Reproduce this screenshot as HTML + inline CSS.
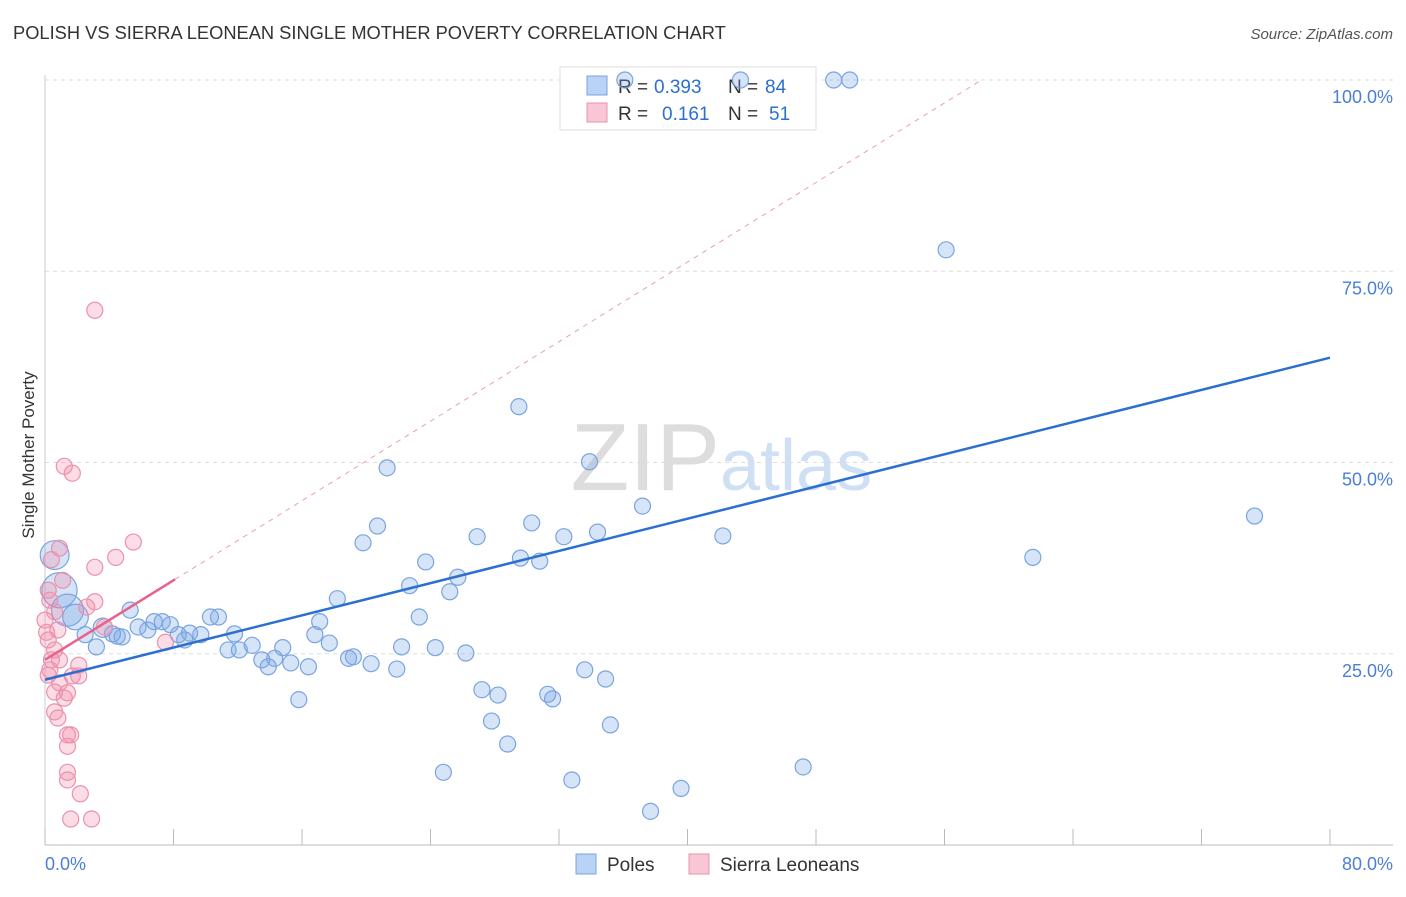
<!DOCTYPE html>
<html><head><meta charset="utf-8"><style>
body{margin:0;background:#fff;font-family:"Liberation Sans",sans-serif;}
svg text{font-family:"Liberation Sans",sans-serif;}
</style></head><body>
<svg id="chart" width="1406" height="892">
<text x="13" y="39" font-size="18.3" fill="#333">POLISH VS SIERRA LEONEAN SINGLE MOTHER POVERTY CORRELATION CHART</text>
<text x="1393" y="39" font-size="15" fill="#555" font-style="italic" text-anchor="end">Source: ZipAtlas.com</text>
<text x="0" y="0" transform="translate(34,455) rotate(-90)" font-size="17" fill="#333" text-anchor="middle">Single Mother Poverty</text>
<text x="720" y="490" font-size="96" fill="#ddd" font-family="Liberation Serif" text-anchor="end">ZIP</text>
<text x="720" y="490" font-size="72" fill="#cfe0f4">atlas</text>
<g id="grid"></g><g id="axes"></g><g id="trend"></g>
<g>
<rect x="560" y="67" width="256" height="63" fill="#fff" stroke="#ddd"/>
<rect x="587" y="76" width="20" height="19" fill="#b9d2f5" stroke="#7aa4e0"/>
<rect x="587" y="103" width="20" height="19" fill="#f9c6d6" stroke="#e893ae"/>
<text x="618" y="93" font-size="19" fill="#333">R = </text><text x="654" y="93" font-size="19" fill="#2b6fd0">0.393</text>
<text x="728" y="93" font-size="19" fill="#333">N = </text><text x="765" y="93" font-size="19" fill="#2b6fd0">84</text>
<text x="618" y="120" font-size="19" fill="#333">R = </text><text x="662" y="120" font-size="19" fill="#2b6fd0">0.161</text>
<text x="728" y="120" font-size="19" fill="#333">N = </text><text x="769" y="120" font-size="19" fill="#2b6fd0">51</text>
</g>
<g id="pts"></g>
<g>
<rect x="576" y="854" width="20" height="20" fill="#b9d2f5" stroke="#7aa4e0"/>
<text x="607" y="871" font-size="19" fill="#333">Poles</text>
<rect x="689" y="854" width="20" height="20" fill="#f9c6d6" stroke="#e893ae"/>
<text x="720" y="871" font-size="19" fill="#333">Sierra Leoneans</text>
</g>
</svg>
<script>
const yTicks=[25,50,75,100];
const yTickLabels=["25.0%","50.0%","75.0%","100.0%"];
const xTicks=[0,8,16,24,32,40,48,56,64,72,80];
const polesX=[36.1,43.3,49.1,50.1,56.1,29.5,21.3,33.9,37.2,75.3,20.7,30.3,26.9,32.3,34.4,42.2,19.8,61.5,29.6,30.8,23.7,25.7,22.7,25.2,18.2,5.3,23.3,17.1,10.3,10.8,6.8,7.3,7.8,5.8,6.4,9.0,8.3,9.7,8.7,11.8,4.2,4.8,16.8,17.7,12.9,12.1,11.4,14.8,22.2,24.3,26.2,13.5,14.3,15.3,16.4,18.9,19.2,20.3,21.9,13.9,33.6,34.9,27.2,28.2,31.3,31.6,15.8,27.8,35.2,28.8,24.8,32.8,39.6,47.2,37.7,3.2,2.5,1.9,0.9,0.6,1.4,3.6,4.5];
const polesY=[100,100,100,100,77.8,57.3,49.3,50.1,44.3,43.0,41.7,42.1,40.3,40.3,40.9,40.4,39.5,37.6,37.5,37.1,37.0,35.0,33.9,33.1,32.2,30.7,29.8,29.2,29.8,29.8,29.2,29.2,28.8,28.5,28.1,27.7,27.5,27.5,26.8,27.6,27.6,27.2,27.5,26.4,26.1,25.5,25.5,25.8,25.9,25.8,25.1,24.2,24.4,23.8,23.3,24.4,24.6,23.7,23.0,23.3,22.9,21.7,20.3,19.6,19.7,19.1,19.0,16.2,15.7,13.2,9.5,8.5,7.4,10.2,4.4,25.9,27.5,29.8,33.3,37.9,30.7,28.4,27.3];
const polesSize=[1,1,1,1,1,1,1,1,1,1,1,1,1,1,1,1,1,1,1,1,1,1,1,1,1,1,1,1,1,1,1,1,1,1,1,1,1,1,1,1,1,1,1,1,1,1,1,1,1,1,1,1,1,1,1,1,1,1,1,1,1,1,1,1,1,1,1,1,1,1,1,1,1,1,1,1,1,1.6,2.2,1.8,2.0,1.2,1];
const sierraX=[3.1,1.2,1.7,0.9,5.5,4.4,3.1,0.4,1.1,0.2,3.1,2.6,0.3,0.6,0,0.8,0.2,0.6,0.4,0.9,2.1,1.7,2.1,0.9,0.6,1.2,1.4,0.6,0.8,1.4,1.6,1.4,1.4,1.4,2.2,1.6,2.9,7.5,3.7,0.3,0.1,0.2];
const sierraY=[69.9,49.5,48.6,38.8,39.6,37.6,36.3,37.3,34.6,33.3,31.8,31.1,32.0,30.5,29.4,28.1,26.8,25.5,24.2,24.2,23.5,22.1,22.1,21.2,20.0,19.2,19.9,17.4,16.6,14.4,14.4,12.9,9.5,8.5,6.7,3.4,3.4,26.5,28.5,22.9,27.8,22.2];
const polesTrend=[21.6,63.7];
const sierraTrend=[24.2,1.3,8.1];
const NS="http://www.w3.org/2000/svg";
const X=v=>45+v*(1285/80), Y=v=>845-v*7.65;
function mk(p,t,a){const e=document.createElementNS(NS,t);for(const k in a)e.setAttribute(k,a[k]);p.appendChild(e);return e;}
const g=document.getElementById('grid'),ax=document.getElementById('axes'),tr=document.getElementById('trend'),pts=document.getElementById('pts');
yTicks.forEach((t,i)=>{const l=mk(g,'line',{x1:45,x2:1393,y1:Y(t),y2:Y(t),stroke:'#ddd','stroke-dasharray':'4,4'});


const tx=mk(g,'text',{x:1393,y:Y(t)+23,'font-size':18,fill:'#4a7fd4','text-anchor':'end'});tx.textContent=yTickLabels[i];

});
mk(ax,'line',{x1:45,x2:1393,y1:845,y2:845,stroke:'#bbb'});
mk(ax,'line',{x1:45,x2:45,y1:75,y2:845,stroke:'#ccc'});
xTicks.forEach(t=>{const l=mk(ax,'line',{x1:X(t),x2:X(t),y1:829,y2:845,stroke:'#bbb'});

});
let a=mk(ax,'text',{x:45,y:870,'font-size':18,fill:'#4a7fd4'});a.textContent='0.0%';


a=mk(ax,'text',{x:1393,y:870,'font-size':18,fill:'#4a7fd4','text-anchor':'end'});a.textContent='80.0%';


const xEnd=(100-sierraTrend[0])/sierraTrend[1];
let l=mk(tr,'line',{x1:X(sierraTrend[2]),y1:Y(sierraTrend[0]+sierraTrend[1]*sierraTrend[2]),x2:X(xEnd),y2:Y(100),stroke:'#e8a0b6','stroke-dasharray':'5,5','stroke-width':1});


polesX.forEach((x,i)=>{const c=mk(pts,'circle',{cx:X(x),cy:Y(polesY[i]),r:8*polesSize[i],fill:'rgba(120,165,230,0.3)',stroke:'#7aa4e0','stroke-width':1.2});

});
sierraX.forEach((x,i)=>{const c=mk(pts,'circle',{cx:X(x),cy:Y(sierraY[i]),r:8,fill:'rgba(245,140,170,0.3)',stroke:'#e893ae','stroke-width':1.2});

});
l=mk(pts,'line',{x1:X(0),y1:Y(polesTrend[0]),x2:X(80),y2:Y(polesTrend[1]),stroke:'#2b6fd0','stroke-width':2.5});


l=mk(pts,'line',{x1:X(0),y1:Y(sierraTrend[0]),x2:X(sierraTrend[2]),y2:Y(sierraTrend[0]+sierraTrend[1]*sierraTrend[2]),stroke:'#e8628a','stroke-width':2.5});


</script>
</body></html>
